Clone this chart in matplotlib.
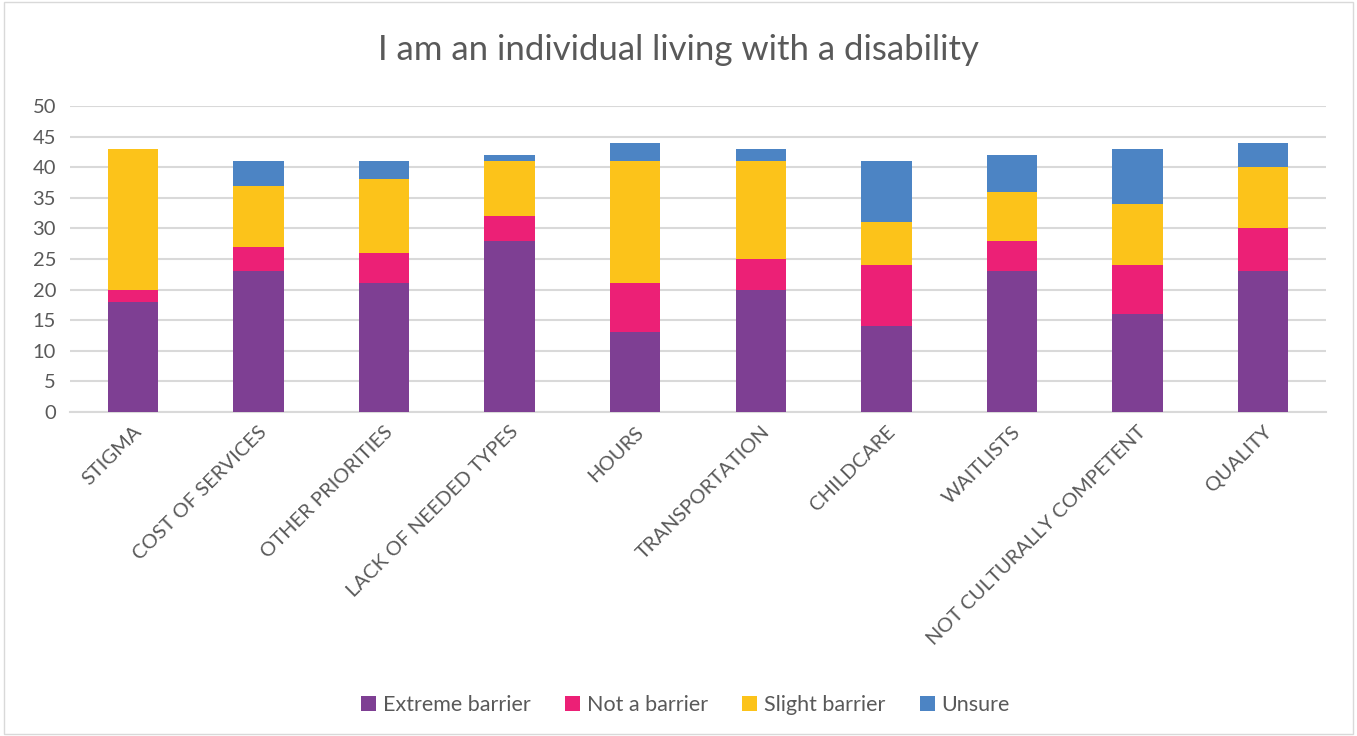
import numpy as np
import matplotlib.pyplot as plt
from matplotlib.patches import Rectangle

plt.rcParams['font.family'] = ['Lato', 'DejaVu Sans']

# Barrier categories and response counts
categories = ['STIGMA', 'COST OF SERVICES', 'OTHER PRIORITIES', 'LACK OF NEEDED TYPES',
              'HOURS', 'TRANSPORTATION', 'CHILDCARE', 'WAITLISTS',
              'NOT CULTURALLY COMPETENT', 'QUALITY']
extreme = [18, 23, 21, 28, 13, 20, 14, 23, 16, 23]
not_barrier = [2, 4, 5, 4, 8, 5, 10, 5, 8, 7]
slight = [23, 10, 12, 9, 20, 16, 7, 8, 10, 10]
unsure = [0, 4, 3, 1, 3, 2, 10, 6, 9, 4]

series = [('Extreme barrier', extreme, '#7E3F93'),
          ('Not a barrier', not_barrier, '#EC2076'),
          ('Slight barrier', slight, '#FCC31A'),
          ('Unsure', unsure, '#4C84C4')]

fig = plt.figure(figsize=(13.57, 7.36), dpi=100)
ax = fig.add_axes([70 / 1357, 1 - 412 / 736, 1256 / 1357, 306 / 736])

x = np.arange(len(categories))
bottom = np.zeros(len(categories))
for name, vals, color in series:
    ax.bar(x, vals, 0.4, bottom=bottom, color=color, label=name, zorder=3)
    bottom += np.array(vals)

ax.set_xlim(-0.5, len(categories) - 0.5)
ax.set_ylim(0, 50)
ax.set_yticks(range(0, 51, 5))
ax.yaxis.grid(True, color='#D9D9D9', linewidth=1.5, zorder=0)
ax.set_axisbelow(True)
for side in ['top', 'right', 'left']:
    ax.spines[side].set_visible(False)
ax.spines['bottom'].set_color('#D9D9D9')
ax.spines['bottom'].set_linewidth(1.5)
ax.tick_params(axis='both', length=0, colors='#595959', labelsize=14.5)
ax.tick_params(axis='y', pad=10)
ax.tick_params(axis='x', pad=8)
ax.set_xticks(x)
ax.set_xticklabels(categories, rotation=45, ha='right', rotation_mode='anchor')

fig.text(0.5, 1 - 50 / 736, 'I am an individual living with a disability',
         ha='center', va='center', fontsize=25, color='#595959')

ax.legend(loc='center', bbox_to_anchor=(0.49, -(705 - 412) / 306),
          ncol=4, frameon=False, fontsize=15.5, labelcolor='#595959',
          handlelength=0.7, handleheight=0.7, handletextpad=0.3, columnspacing=1.6)

# Outer chart border
fig.patches.append(Rectangle((4 / 1357, 2 / 736), 1349 / 1357, 732 / 736,
                             transform=fig.transFigure, fill=False,
                             edgecolor='#D9D9D9', linewidth=1))

fig.savefig('out.png', dpi=100)
